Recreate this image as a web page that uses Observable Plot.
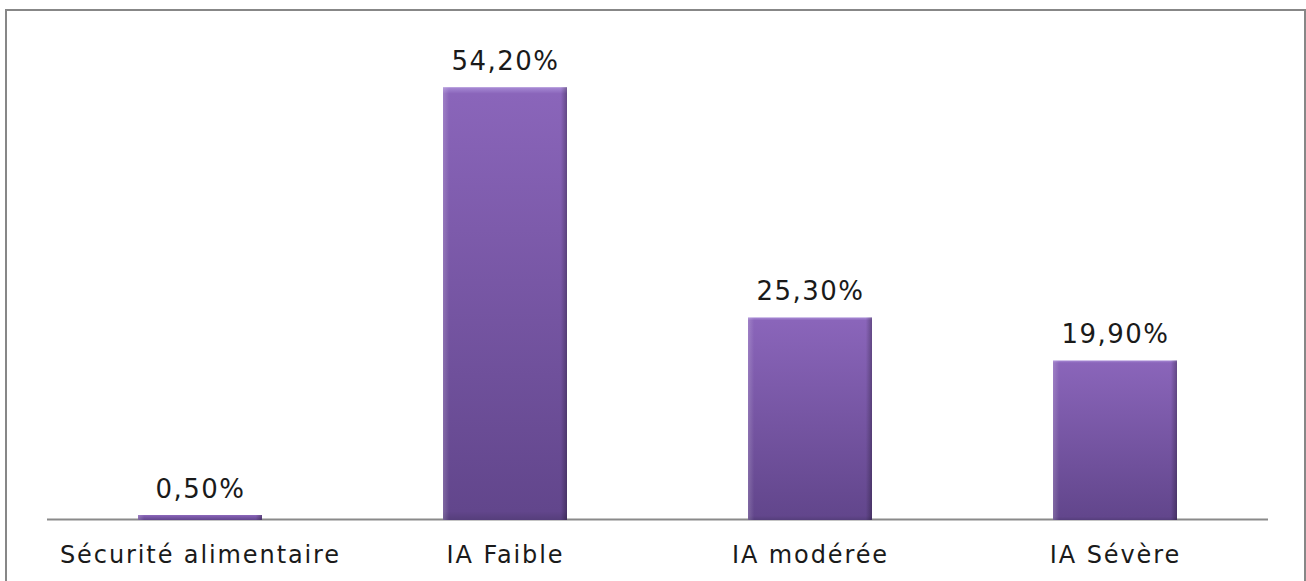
<!DOCTYPE html>
<html>
<head>
<meta charset="utf-8">
<script src="https://cdn.jsdelivr.net/npm/d3@7"></script>
<script src="https://cdn.jsdelivr.net/npm/@observablehq/plot@0.6"></script>
<style>
  html, body { margin: 0; padding: 0; background: #fff; width: 1306px; height: 581px; overflow: hidden; }
  #frame { position: absolute; left: 5px; top: 9px; width: 1297px; height: 600px;
           border-left: 2px solid #878787; border-top: 2px solid #878787; border-right: 2px solid #878787; }
  #chart { position: absolute; left: 0; top: 0; }
</style>
</head>
<body>
<div id="frame"></div>
<div id="chart"></div>
<script>
const categories = ["Sécurité alimentaire", "IA Faible", "IA modérée", "IA Sévère"];
const values = [0.5, 54.2, 25.3, 19.9];
const valueLabels = ["0,50%", "54,20%", "25,30%", "19,90%"];

const data = categories.map((c, i) => ({cat: c, value: values[i], label: valueLabels[i]}));

const defs = () => {
  const d = d3.create("svg:defs");
  const vg = d.append("linearGradient").attr("id", "vg").attr("x1", 0).attr("y1", 0).attr("x2", 0).attr("y2", 1);
  vg.append("stop").attr("offset", "0%").attr("stop-color", "#a88bd6");
  vg.append("stop").attr("offset", "1.5%").attr("stop-color", "#8a65ba");
  vg.append("stop").attr("offset", "98%").attr("stop-color", "#62468c");
  vg.append("stop").attr("offset", "100%").attr("stop-color", "#553e7b");
  const hg = d.append("linearGradient").attr("id", "hg").attr("x1", 0).attr("y1", 0).attr("x2", 1).attr("y2", 0);
  hg.append("stop").attr("offset", "0%").attr("stop-color", "#ffffff").attr("stop-opacity", 0.18);
  hg.append("stop").attr("offset", "5%").attr("stop-color", "#ffffff").attr("stop-opacity", 0);
  hg.append("stop").attr("offset", "95%").attr("stop-color", "#000000").attr("stop-opacity", 0);
  hg.append("stop").attr("offset", "100%").attr("stop-color", "#000000").attr("stop-opacity", 0.28);
  return d.node();
};

const chart = Plot.plot({
  width: 1306,
  height: 581,
  marginLeft: 47,
  marginRight: 38,
  marginTop: 41,
  marginBottom: 62,
  style: { fontFamily: "'DejaVu Sans', sans-serif", background: "transparent", overflow: "visible" },
  x: { domain: categories, paddingInner: 0.594, paddingOuter: 0.297, axis: null },
  y: { domain: [0, 60], axis: null },
  marks: [
    defs,
    Plot.ruleY([0], { stroke: "#8a8a8a", strokeWidth: 2 }),
    Plot.barY(data, { x: "cat", y: "value", fill: "url(#vg)", insetBottom: -1 }),
    Plot.barY(data, { x: "cat", y: "value", fill: "url(#hg)", insetBottom: -1 }),
    Plot.text(data, { x: "cat", y: "value", text: "label", lineAnchor: "bottom", dy: -18,
      fontSize: 26, fill: "#1a1a1a", className: "vlabel" }),
    Plot.text(data, { x: "cat", y: () => 0, text: "cat", lineAnchor: "bottom", dy: 43,
      fontSize: 24, fill: "#1a1a1a", className: "clabel" })
  ]
});
chart.querySelectorAll(".vlabel text").forEach(t => t.style.letterSpacing = "1.5px");
chart.querySelectorAll(".clabel text").forEach(t => t.style.letterSpacing = "1.9px");
document.getElementById("chart").appendChild(chart);
</script>
</body>
</html>
